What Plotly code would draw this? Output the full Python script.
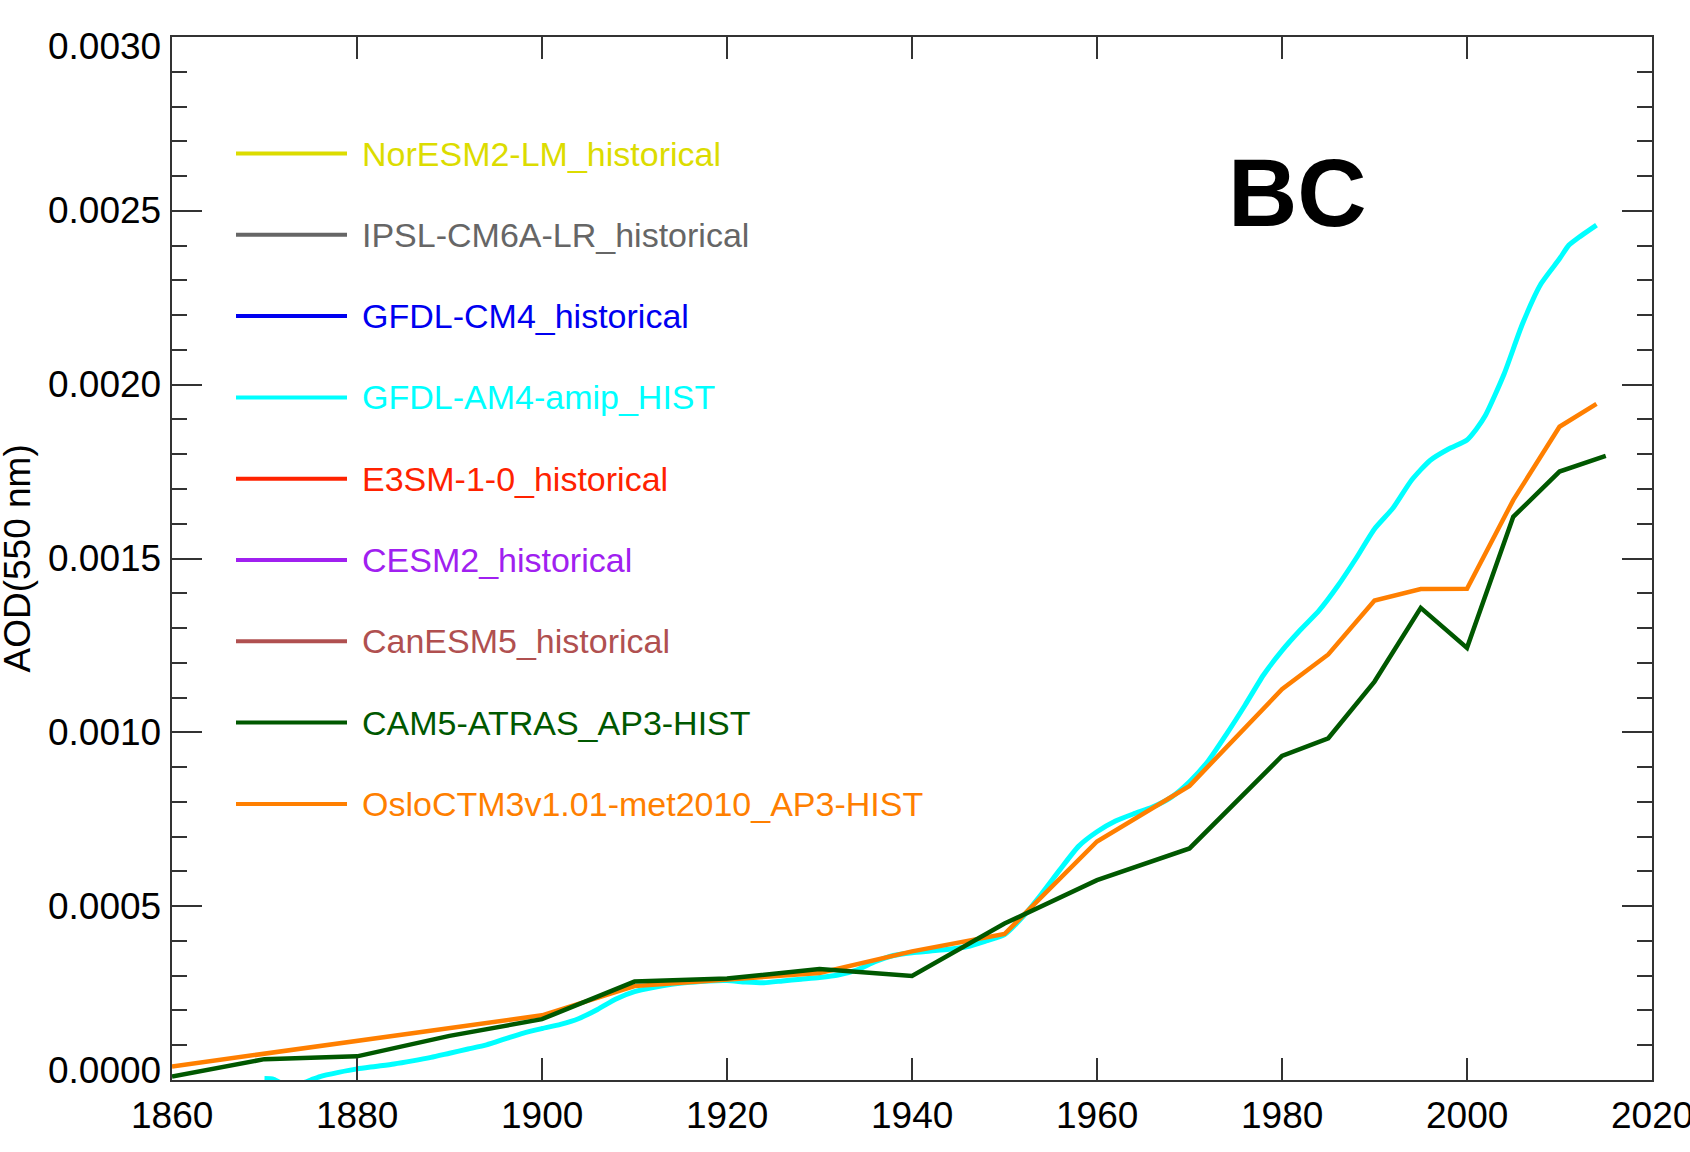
import plotly.graph_objects as go

# ---- data -------------------------------------------------------------
# CAM5-ATRAS_AP3-HIST
cam5_years = [1860, 1870, 1880, 1890, 1900, 1910, 1920, 1930, 1940, 1950,
              1960, 1970, 1980, 1985, 1990, 1995, 2000, 2005, 2010, 2015]
cam5_aod = [0.000010, 0.000060, 0.000068, 0.000127, 0.000175, 0.000283,
            0.000292, 0.000319, 0.000299, 0.000450, 0.000575, 0.000666,
            0.000932, 0.000983, 0.001146, 0.001358, 0.001243, 0.001620,
            0.001750, 0.001795]

# OsloCTM3v1.01-met2010_AP3-HIST
oslo_years = [1860, 1870, 1880, 1890, 1900, 1910, 1920, 1930, 1940, 1950,
              1960, 1970, 1980, 1985, 1990, 1995, 2000, 2005, 2010, 2014]
oslo_aod = [0.000039, 0.000076, 0.000114, 0.000150, 0.000186, 0.000270,
            0.000290, 0.000308, 0.000370, 0.000420, 0.000686, 0.000846,
            0.001124, 0.001224, 0.001379, 0.001412, 0.001413, 0.001668,
            0.001879, 0.001945]

# GFDL-AM4-amip_HIST
am4_years = [1870, 1871, 1872, 1873, 1874, 1875, 1876, 1878, 1880, 1882,
             1884, 1886, 1888, 1890, 1892, 1894, 1896, 1898, 1900, 1902,
             1904, 1906, 1908, 1910, 1912, 1914, 1916, 1918, 1920, 1922,
             1924, 1926, 1928, 1930, 1932, 1934, 1936, 1938, 1940, 1942,
             1944, 1946, 1948, 1950, 1952, 1954, 1956, 1958, 1960, 1962,
             1964, 1966, 1968, 1970, 1972, 1974, 1976, 1978, 1980, 1982,
             1984, 1986, 1988, 1990, 1992, 1994, 1996, 1998, 2000, 2001,
             2002, 2004, 2006, 2008, 2010, 2011, 2012, 2014]
am4_aod = [0.000004, 0.000002, -0.000012, -0.000018, -0.000010, 0.000000,
           0.000010, 0.000022, 0.000032, 0.000039, 0.000046, 0.000055,
           0.000065, 0.000077, 0.000089, 0.000101, 0.000118, 0.000135,
           0.000148, 0.000160, 0.000177, 0.000203, 0.000233, 0.000254,
           0.000266, 0.000275, 0.000281, 0.000285, 0.000286, 0.000282,
           0.000280, 0.000285, 0.000290, 0.000295, 0.000302, 0.000316,
           0.000340, 0.000358, 0.000366, 0.000371, 0.000376, 0.000384,
           0.000400, 0.000418, 0.000470, 0.000535, 0.000605, 0.000672,
           0.000714, 0.000745, 0.000766, 0.000785, 0.000813, 0.000858,
           0.000917, 0.000995, 0.001078, 0.001165, 0.001235, 0.001295,
           0.001350, 0.001420, 0.001500, 0.001585, 0.001645, 0.001725,
           0.001782, 0.001815, 0.001841, 0.001872, 0.001912, 0.002030,
           0.002175, 0.002290, 0.002362, 0.002401, 0.002422, 0.002459]

# legend entries (name, colour), top to bottom
legend_names = ["NorESM2-LM_historical", "IPSL-CM6A-LR_historical",
                "GFDL-CM4_historical", "GFDL-AM4-amip_HIST",
                "E3SM-1-0_historical", "CESM2_historical",
                "CanESM5_historical", "CAM5-ATRAS_AP3-HIST",
                "OsloCTM3v1.01-met2010_AP3-HIST"]
legend_colors = ["#DCDC00", "#666666", "#0000F0", "#00FFFF", "#FF2200",
                 "#A020F0", "#B05050", "#005800", "#FF7F00"]

x_ticks = [1860, 1880, 1900, 1920, 1940, 1960, 1980, 2000, 2020]
y_ticks = [0.0000, 0.0005, 0.0010, 0.0015, 0.0020, 0.0025, 0.0030]

# ---- layout geometry (pixels) ----------------------------------------
W, H = 1690, 1152
ML, MR, MT, MB = 172, 38, 37, 72
PW, PH = W - ML - MR, H - MT - MB


def px(xp):
    return (xp - ML) / PW


def py(yp):
    return (H - MB - yp) / PH


FONT = "Liberation Sans, Arial, Helvetica, sans-serif"
AXIS_COL = "#333333"

fig = go.Figure()

fig.add_trace(go.Scatter(x=am4_years, y=am4_aod, mode="lines",
                         line=dict(color="#00FFFF", width=5, shape="spline",
                                   smoothing=0.6),
                         name="GFDL-AM4-amip_HIST", showlegend=False))
fig.add_trace(go.Scatter(x=oslo_years, y=oslo_aod, mode="lines",
                         line=dict(color="#FF7F00", width=4.5),
                         name="OsloCTM3v1.01-met2010_AP3-HIST",
                         showlegend=False))
fig.add_trace(go.Scatter(x=cam5_years, y=cam5_aod, mode="lines",
                         line=dict(color="#005800", width=4.5),
                         name="CAM5-ATRAS_AP3-HIST", showlegend=False))

# hand-drawn legend: coloured line + same-coloured label
shapes = []
annotations = []
row0, row_step = 153.5, 81.3
for k, (name, col) in enumerate(zip(legend_names, legend_colors)):
    yy = py(row0 + k * row_step)
    shapes.append(dict(type="line", xref="paper", yref="paper",
                       x0=px(236), x1=px(347), y0=yy, y1=yy,
                       line=dict(color=col, width=4)))
    annotations.append(dict(xref="paper", yref="paper", x=px(360), y=yy,
                            xanchor="left", yanchor="middle", text=name,
                            showarrow=False,
                            font=dict(family=FONT, size=34, color=col)))

# y tick labels; the end labels are nudged inward so they stay beside the frame
for v in y_ticks:
    shift = 0
    if v == y_ticks[-1]:
        shift = -9
    elif v == y_ticks[0]:
        shift = 10
    annotations.append(dict(xref="paper", yref="y", x=px(163), y=v,
                            xanchor="right", yanchor="middle",
                            text="%.4f" % v, yshift=shift, showarrow=False,
                            font=dict(family=FONT, size=37, color="black")))

# x tick labels (the last one runs off the right edge of the page)
for v in x_ticks:
    annotations.append(dict(xref="x", yref="paper", x=v, y=py(1115),
                            xanchor="center", yanchor="middle",
                            text=str(v), showarrow=False,
                            font=dict(family=FONT, size=37, color="black")))

annotations.append(dict(xref="paper", yref="paper", x=px(1297), y=py(192),
                        xanchor="center", yanchor="middle", text="<b>BC</b>",
                        showarrow=False,
                        font=dict(family=FONT, size=96, color="black")))
annotations.append(dict(xref="paper", yref="paper", x=px(17), y=0.5,
                        xanchor="center", yanchor="middle",
                        text="AOD(550 nm)", textangle=-90, showarrow=False,
                        font=dict(family=FONT, size=37, color="black")))

fig.update_layout(
    width=W, height=H,
    margin=dict(l=ML, r=MR, t=MT, b=MB, pad=0, autoexpand=False),
    paper_bgcolor="white", plot_bgcolor="white",
    shapes=shapes, annotations=annotations,
    showlegend=False,
    font=dict(family=FONT, size=37, color="black"),
)

fig.update_xaxes(range=[1860, 2020], tickvals=x_ticks,
                 showticklabels=False, automargin=False,
                 showgrid=False, zeroline=False,
                 showline=True, linecolor=AXIS_COL, linewidth=2,
                 mirror="ticks", ticks="inside", ticklen=22, tickwidth=2,
                 tickcolor=AXIS_COL)
fig.update_yaxes(range=[0, 0.003], tickvals=y_ticks,
                 showticklabels=False, automargin=False,
                 showgrid=False, zeroline=False,
                 showline=True, linecolor=AXIS_COL, linewidth=2,
                 mirror="ticks", ticks="inside", ticklen=30, tickwidth=2,
                 tickcolor=AXIS_COL,
                 minor=dict(ticks="inside", ticklen=15, tickwidth=2,
                            tickcolor=AXIS_COL, dtick=0.0001,
                            showgrid=False))

fig.write_html("out.html")
